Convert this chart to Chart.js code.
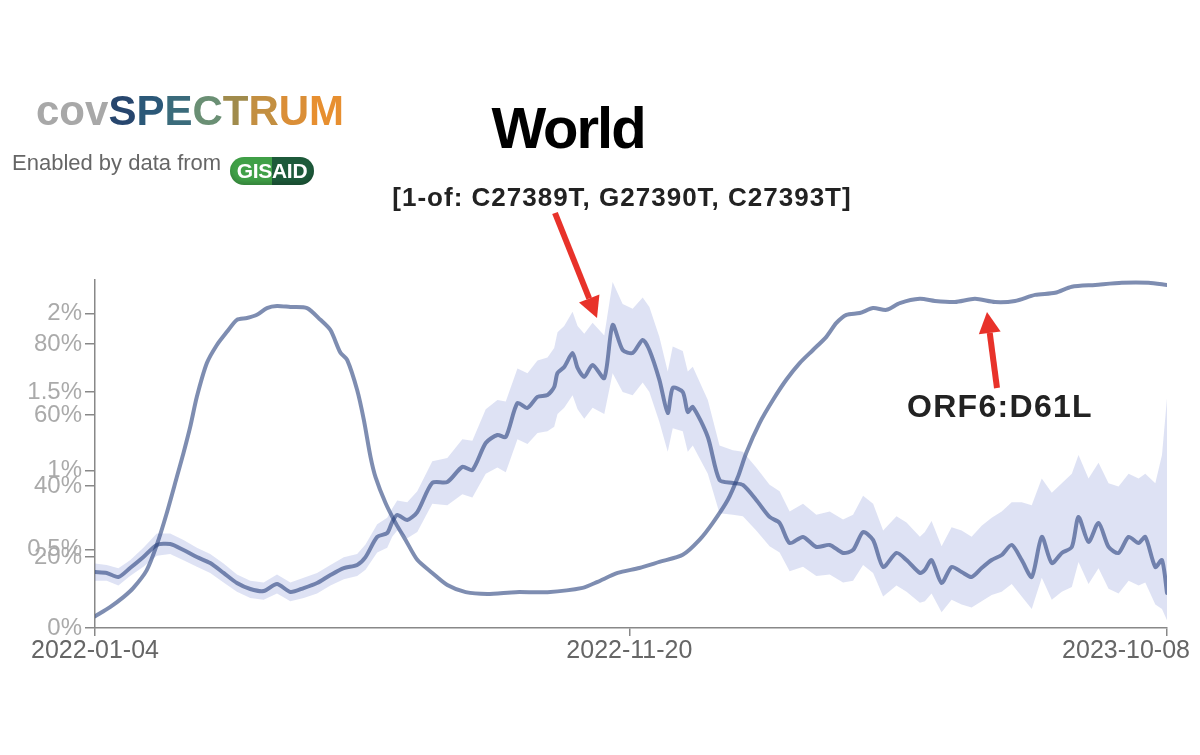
<!DOCTYPE html>
<html>
<head>
<meta charset="utf-8">
<script src="https://cdn.jsdelivr.net/npm/chart.js@4.4.1/dist/chart.umd.min.js"></script>
<style>
  html, body { margin: 0; padding: 0; background: #fff; }
  #wrap { position: relative; width: 1200px; height: 755px; overflow: hidden;
          font-family: "Liberation Sans", Arial, Helvetica, sans-serif; }
  #wrap canvas { position: absolute; left: 0; top: 0; }
  .txt { position: absolute; white-space: nowrap; line-height: 1; }
  #logo { left: 36px; top: 90px; font-size: 42px; font-weight: bold; }
  #enabled { left: 12px; top: 152px; font-size: 22px; color: #666; }
  #gisaid { position: absolute; left: 230px; top: 157px; width: 84px; height: 28px; border-radius: 14px;
            background: linear-gradient(to right, #40a047 0 50%, #1d5a3a 50% 100%);
            color: #fff; font-weight: bold; font-size: 21px; line-height: 28px; text-align: center;
            letter-spacing: -0.3px; box-shadow: inset 0 -3px 4px rgba(0,0,0,0.18); }
  #title { left: 268px; width: 600px; top: 99px; text-align: center; font-size: 58px; font-weight: bold;
           color: #000; letter-spacing: -2px; }
  #subtitle { left: 322px; width: 600px; top: 184px; text-align: center; font-size: 26px; font-weight: bold;
              color: #222; letter-spacing: 1px; }
  #orfLabel { left: 850px; width: 300px; top: 390px; text-align: center; font-size: 32px; font-weight: bold;
              color: #222; letter-spacing: 1.3px; }
</style>
</head>
<body>
<div id="wrap">
  <canvas id="chart" width="1200" height="755"></canvas>
  <div class="txt" id="logo"><span style="color:#a8a8a8">cov</span><span style="color:#27466e">S</span><span style="color:#2b5878">P</span><span style="color:#3a6b7b">E</span><span style="color:#6a8f74">C</span><span style="color:#a08b4c">T</span><span style="color:#c38f41">R</span><span style="color:#da8e37">U</span><span style="color:#e78f30">M</span></div>
  <div class="txt" id="enabled">Enabled by data from</div>
  <div id="gisaid">GISAID</div>
  <div class="txt" id="title">World</div>
  <div class="txt" id="subtitle">[1-of: C27389T, G27390T, C27393T]</div>
  <div class="txt" id="orfLabel">ORF6:D61L</div>
</div>
<script>
// ---- axes / ticks ----
const xTickDays = [0, 320, 642];            // days since 2022-01-04
const xTickLabels = ['2022-01-04', '2022-11-20', '2023-10-08'];
const yTicksMain = [0, 20, 40, 60, 80];     // ORF6:D61L axis (%)
const yTicksSmall = [0.5, 1, 1.5, 2];       // 1-of mutations axis (%)

// ---- ORF6:D61L share (%) ----
const orfDays = [0, 9, 17, 23, 31, 37, 43, 49, 53, 57, 61, 67, 73, 79, 85, 91, 97, 103, 109, 117,
  127, 135, 141, 147, 151, 157, 161, 165, 168, 174, 180, 186, 193, 202, 211, 222, 235, 252, 271, 292,
  301, 313, 326, 338, 352, 362, 370, 379, 385, 390, 398, 406, 414, 422, 430, 438, 444, 450, 458, 466,
  474, 482, 494, 503, 515, 527, 539, 551, 563, 575, 585, 599, 615, 631, 642];
const orfShare = [3.3, 5.9, 8.7, 11.3, 16.3, 23.4, 32.4, 42.5, 49.3, 56.6, 65.1, 74.6, 79.7, 83.4, 86.8, 87.3, 88.2, 90.1, 90.7, 90.4,
  90.1, 86.8, 83.9, 77.5, 75.5, 67.0, 58.6, 48.2, 42.5, 35.2, 29.6, 24.8, 19.2, 15.5, 12.1, 10.1, 9.6, 10.1, 10.1, 11.3,
  13.0, 15.5, 16.9, 18.6, 20.6, 24.8, 29.6, 36.1, 42.5, 49.3, 57.7, 64.2, 69.9, 74.6, 78.3, 82.0, 85.9, 88.2, 88.7, 90.1,
  89.6, 91.5, 92.7, 92.1, 91.8, 92.7, 91.8, 92.1, 93.8, 94.4, 96.1, 96.6, 97.2, 97.2, 96.6];

// ---- [1-of: C27389T, G27390T, C27393T] share (%) with confidence band ----
const mutDays = [0, 7, 14, 21, 29, 37, 45, 53, 61, 69, 77, 85, 93, 101, 109, 117, 125, 133, 141, 149,
  157, 162, 169, 175, 178, 181, 187, 193, 202, 211, 220, 226, 234, 241, 246, 253, 259, 265, 271, 275,
  277, 281, 286, 289, 293, 298, 305, 310, 316, 322, 328, 332, 338, 343, 346, 352, 355, 358, 367, 374,
  382, 388, 396, 404, 410, 416, 424, 432, 440, 448, 454, 460, 466, 472, 480, 486, 494, 497, 501, 507,
  513, 519, 525, 531, 537, 543, 549, 555, 561, 567, 573, 579, 585, 589, 595, 601, 607, 613, 619, 625,
  629, 635, 639, 642];
const mutShare = [0.356, 0.350, 0.324, 0.381, 0.451, 0.528, 0.534, 0.496, 0.451, 0.413, 0.350, 0.286, 0.248, 0.235, 0.280, 0.229, 0.254, 0.286, 0.337, 0.381,
  0.401, 0.451, 0.579, 0.604, 0.674, 0.718, 0.687, 0.737, 0.922, 0.928, 1.024, 1.004, 1.176, 1.227, 1.214, 1.430, 1.399, 1.469, 1.481, 1.532,
  1.621, 1.659, 1.748, 1.653, 1.596, 1.672, 1.589, 1.926, 1.767, 1.748, 1.831, 1.767, 1.577, 1.367, 1.526, 1.500, 1.373, 1.405, 1.214, 0.941,
  0.922, 0.909, 0.814, 0.706, 0.668, 0.540, 0.579, 0.515, 0.528, 0.477, 0.496, 0.610, 0.559, 0.388, 0.477, 0.432, 0.350, 0.369, 0.432, 0.286,
  0.388, 0.356, 0.324, 0.381, 0.432, 0.464, 0.528, 0.432, 0.324, 0.579, 0.413, 0.477, 0.515, 0.706, 0.547, 0.668, 0.515, 0.477, 0.579, 0.540,
  0.579, 0.388, 0.432, 0.223];
const mutLower = [0.30, 0.30, 0.27, 0.33, 0.39, 0.46, 0.47, 0.43, 0.39, 0.35, 0.29, 0.23, 0.19, 0.18, 0.22, 0.17, 0.19, 0.22, 0.27, 0.31,
  0.33, 0.37, 0.48, 0.51, 0.58, 0.62, 0.57, 0.61, 0.79, 0.78, 0.85, 0.83, 0.98, 1.02, 0.99, 1.20, 1.17, 1.24, 1.25, 1.28,
  1.36, 1.40, 1.48, 1.39, 1.33, 1.40, 1.36, 1.62, 1.50, 1.48, 1.56, 1.50, 1.31, 1.12, 1.27, 1.25, 1.12, 1.16, 0.98, 0.73,
  0.72, 0.71, 0.62, 0.52, 0.48, 0.36, 0.39, 0.33, 0.34, 0.29, 0.30, 0.40, 0.35, 0.20, 0.27, 0.23, 0.16, 0.17, 0.22, 0.10,
  0.18, 0.15, 0.13, 0.17, 0.21, 0.23, 0.28, 0.20, 0.12, 0.32, 0.18, 0.23, 0.26, 0.42, 0.28, 0.38, 0.25, 0.22, 0.30, 0.27,
  0.29, 0.15, 0.12, 0.05];
const mutUpper = [0.41, 0.40, 0.38, 0.43, 0.51, 0.60, 0.60, 0.56, 0.51, 0.47, 0.41, 0.34, 0.30, 0.29, 0.34, 0.29, 0.32, 0.35, 0.40, 0.45,
  0.47, 0.53, 0.66, 0.70, 0.76, 0.81, 0.80, 0.87, 1.06, 1.08, 1.20, 1.19, 1.39, 1.45, 1.44, 1.65, 1.62, 1.70, 1.72, 1.78,
  1.88, 1.92, 2.01, 1.92, 1.87, 1.94, 1.86, 2.20, 2.06, 2.03, 2.10, 2.04, 1.85, 1.63, 1.79, 1.76, 1.63, 1.66, 1.45, 1.16,
  1.13, 1.12, 1.02, 0.91, 0.87, 0.74, 0.79, 0.72, 0.74, 0.69, 0.72, 0.84, 0.79, 0.62, 0.71, 0.67, 0.58, 0.61, 0.68, 0.52,
  0.64, 0.62, 0.58, 0.65, 0.70, 0.74, 0.80, 0.80, 0.78, 0.95, 0.86, 0.92, 0.98, 1.10, 0.95, 1.05, 0.92, 0.90, 0.98, 0.95,
  0.98, 0.92, 1.10, 1.46];

const FONT = '"Liberation Sans", Arial, Helvetica, sans-serif';
const LINE_COLOR = 'rgba(40, 65, 125, 0.6)';
const BAND_COLOR = 'rgba(90, 110, 200, 0.2)';
const ARROW_COLOR = '#e8322a';

const toPoints = (xs, ys) => xs.map((x, i) => ({ x: x, y: ys[i] }));

// red annotation arrows (pixel positions on the picture)
const arrows = [
  { from: [555, 213], to: [597, 318] },
  { from: [997, 388], to: [987, 312] }
];

// second y axis labels sit on top of the first one, x labels stay inside the page
const tickLabelPlugin = {
  id: 'tickLabels',
  afterDraw(chart) {
    const { ctx, scales } = chart;
    ctx.save();
    ctx.font = '24px ' + FONT;
    ctx.fillStyle = '#aaa';
    ctx.textAlign = 'right';
    ctx.textBaseline = 'middle';
    yTicksSmall.forEach(v => {
      ctx.fillText(v + '%', chart.chartArea.left - 13, scales.ySmall.getPixelForValue(v));
    });

    ctx.font = '25px ' + FONT;
    ctx.fillStyle = '#666';
    ctx.textAlign = 'center';
    xTickDays.forEach((d, i) => {
      const label = xTickLabels[i];
      const w = ctx.measureText(label).width;
      let cx = scales.x.getPixelForValue(d);
      cx = Math.min(cx, chart.width - 10 - w / 2);
      ctx.fillText(label, cx, scales.x.top + 23);
    });
    ctx.restore();
  }
};

const arrowPlugin = {
  id: 'arrows',
  afterDraw(chart) {
    const { ctx } = chart;
    ctx.save();
    ctx.strokeStyle = ARROW_COLOR;
    ctx.fillStyle = ARROW_COLOR;
    ctx.lineWidth = 6;
    arrows.forEach(a => {
      const dx = a.to[0] - a.from[0], dy = a.to[1] - a.from[1];
      const len = Math.hypot(dx, dy);
      const ux = dx / len, uy = dy / len;
      const headLen = 21, headHalf = 11;
      const bx = a.to[0] - ux * headLen, by = a.to[1] - uy * headLen;
      ctx.beginPath();
      ctx.moveTo(a.from[0], a.from[1]);
      ctx.lineTo(bx, by);
      ctx.stroke();
      ctx.beginPath();
      ctx.moveTo(a.to[0], a.to[1]);
      ctx.lineTo(bx - uy * headHalf, by + ux * headHalf);
      ctx.lineTo(bx + uy * headHalf, by - ux * headHalf);
      ctx.closePath();
      ctx.fill();
    });
    ctx.restore();
  }
};

Chart.defaults.font.family = FONT;

new Chart(document.getElementById('chart').getContext('2d'), {
  type: 'line',
  data: {
    datasets: [
      {
        label: 'ORF6:D61L',
        data: toPoints(orfDays, orfShare),
        yAxisID: 'yMain',
        borderColor: LINE_COLOR,
        borderWidth: 4,
        pointRadius: 0,
        tension: 0.25,
        borderJoinStyle: 'round',
        borderCapStyle: 'round',
        fill: false,
        order: 0
      },
      {
        label: '[1-of: C27389T, G27390T, C27393T]',
        data: toPoints(mutDays, mutShare),
        yAxisID: 'ySmall',
        borderColor: LINE_COLOR,
        borderWidth: 4,
        pointRadius: 0,
        tension: 0.25,
        borderJoinStyle: 'round',
        borderCapStyle: 'round',
        fill: false,
        order: 1
      },
      {
        label: 'upper',
        data: toPoints(mutDays, mutUpper),
        yAxisID: 'ySmall',
        borderColor: 'transparent',
        borderWidth: 0,
        pointRadius: 0,
        backgroundColor: BAND_COLOR,
        fill: 3,
        order: 2
      },
      {
        label: 'lower',
        data: toPoints(mutDays, mutLower),
        yAxisID: 'ySmall',
        borderColor: 'transparent',
        borderWidth: 0,
        pointRadius: 0,
        fill: false,
        order: 3
      }
    ]
  },
  options: {
    responsive: false,
    animation: false,
    events: [],
    layout: { padding: { left: 0, top: 280, right: 33, bottom: 77 } },
    scales: {
      x: {
        type: 'linear',
        min: 0,
        max: 642,
        afterBuildTicks: s => { s.ticks = xTickDays.map(v => ({ value: v })); },
        afterFit: s => { s.height = 50; s.paddingLeft = 0; s.paddingRight = 0; },
        ticks: { display: false },
        grid: { drawOnChartArea: false, color: '#888', tickLength: 8, lineWidth: 1.5 },
        border: { display: true, color: '#888', width: 1.5 }
      },
      yMain: {
        type: 'linear',
        position: 'left',
        weight: 1,
        min: 0,
        max: 98,
        afterBuildTicks: s => { s.ticks = yTicksMain.map(v => ({ value: v })); },
        afterFit: s => { s.width = 95; },
        ticks: { color: '#aaa', font: { size: 24 }, padding: 3, callback: v => v + '%' },
        grid: { drawOnChartArea: false, color: '#888', tickLength: 10, lineWidth: 1.5 },
        border: { display: true, color: '#888', width: 1.5 }
      },
      ySmall: {
        type: 'linear',
        position: 'left',
        weight: 0,
        min: 0,
        max: 2.212,
        afterBuildTicks: s => { s.ticks = yTicksSmall.map(v => ({ value: v })); },
        afterFit: s => { s.width = 0; },
        ticks: { display: false },
        grid: { drawOnChartArea: false, color: '#888', tickLength: 10, lineWidth: 1.5 },
        border: { display: false }
      }
    },
    plugins: {
      legend: { display: false },
      tooltip: { enabled: false }
    }
  },
  plugins: [tickLabelPlugin, arrowPlugin]
});
</script>
</body>
</html>
